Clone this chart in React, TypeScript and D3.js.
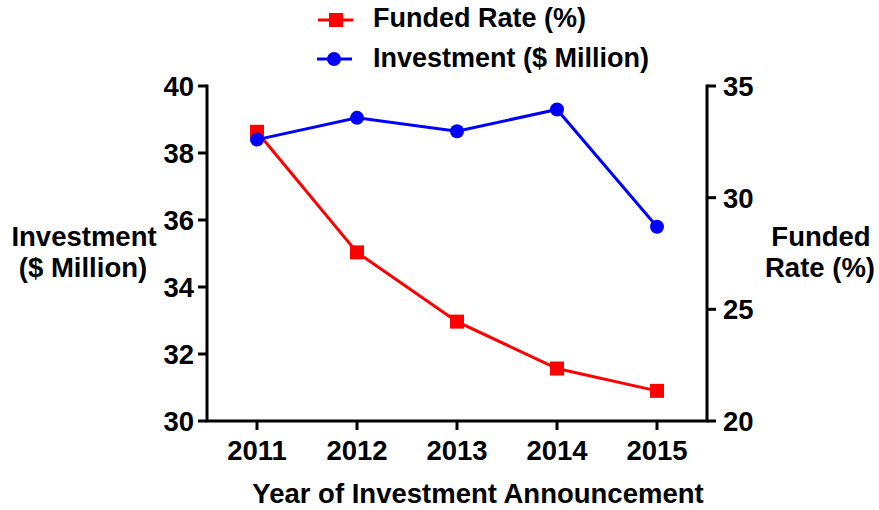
import React from "react";
import * as d3 from "d3";

const years = [2011, 2012, 2013, 2014, 2015];
const investment = [38.4, 39.05, 38.65, 39.3, 35.8];
const fundedRate = [32.95, 27.55, 24.45, 22.35, 21.35];
const leftTicks = [30, 32, 34, 36, 38, 40];
const rightTicks = [20, 25, 30, 35];

const W = 879;
const H = 510;
const FONT = "'Liberation Sans', Arial, sans-serif";

export default function App() {
  const x = d3.scaleLinear().domain([2010.5, 2015.5]).range([207, 707]);
  const yL = d3.scaleLinear().domain([30, 40]).range([421, 86]);
  const yR = d3.scaleLinear().domain([20, 35]).range([421, 86]);

  const lineL = d3
    .line<number>()
    .x((_, i) => x(years[i]))
    .y((d) => yL(d));
  const lineR = d3
    .line<number>()
    .x((_, i) => x(years[i]))
    .y((d) => yR(d));

  const sq = 14;

  return (
    <svg
      width={W}
      height={H}
      style={{ position: "absolute", left: 0, top: 0, background: "#fff" }}
      fontFamily={FONT}
      fontWeight="bold"
    >
      {/* Legend */}
      <g>
        <line x1={318} x2={353} y1={20} y2={20} stroke="#ff0000" strokeWidth={3} />
        <rect x={336 - sq / 2} y={20 - sq / 2} width={sq} height={sq} fill="#ff0000" />
        <text x={373} y={27} fontSize={27} fill="#000">
          Funded Rate (%)
        </text>
        <line x1={317} x2={352} y1={59} y2={59} stroke="#0000ff" strokeWidth={3} />
        <circle cx={334} cy={59} r={7} fill="#0000ff" />
        <text x={373} y={67} fontSize={27} fill="#000">
          Investment ($ Million)
        </text>
      </g>

      {/* Axes */}
      <g stroke="#000" strokeWidth={3} fill="none">
        <path d={`M${x(2010.5)},${yL(40)} L${x(2010.5)},${yL(30)} L${x(2015.5)},${yL(30)} L${x(2015.5)},${yR(35)}`} strokeLinejoin="miter" strokeLinecap="square" />
        {leftTicks.map((t) => (
          <line key={"l" + t} x1={x(2010.5) - 9} x2={x(2010.5)} y1={yL(t)} y2={yL(t)} />
        ))}
        {rightTicks.map((t) => (
          <line key={"r" + t} x1={x(2015.5)} x2={x(2015.5) + 9} y1={yR(t)} y2={yR(t)} />
        ))}
        {years.map((yr) => (
          <line key={"x" + yr} x1={x(yr)} x2={x(yr)} y1={yL(30)} y2={yL(30) + 9} />
        ))}
      </g>

      <g fontSize={27.5} fill="#000">
        {leftTicks.map((t) => (
          <text key={"lt" + t} x={x(2010.5) - 13} y={yL(t)} dy="0.36em" textAnchor="end">
            {t}
          </text>
        ))}
        {rightTicks.map((t) => (
          <text key={"rt" + t} x={x(2015.5) + 16} y={yR(t)} dy="0.36em" textAnchor="start">
            {t}
          </text>
        ))}
        {years.map((yr) => (
          <text key={"xt" + yr} x={x(yr)} y={460} textAnchor="middle">
            {yr}
          </text>
        ))}
      </g>

      {/* Titles */}
      <g fontSize={27.5} fill="#000" textAnchor="middle">
        <text x={478} y={503}>Year of Investment Announcement</text>
        <text x={84} y={246}>Investment</text>
        <text x={83} y={277}>($ Million)</text>
        <text x={821} y={246}>Funded</text>
        <text x={820} y={277}>Rate (%)</text>
      </g>

      {/* Series */}
      <path d={lineR(fundedRate) || ""} fill="none" stroke="#ff0000" strokeWidth={3} />
      {fundedRate.map((v, i) => (
        <rect key={"s" + i} x={x(years[i]) - sq / 2} y={yR(v) - sq / 2} width={sq} height={sq} fill="#ff0000" />
      ))}
      <path d={lineL(investment) || ""} fill="none" stroke="#0000ff" strokeWidth={3} />
      {investment.map((v, i) => (
        <circle key={"c" + i} cx={x(years[i])} cy={yL(v)} r={7} fill="#0000ff" />
      ))}
    </svg>
  );
}
